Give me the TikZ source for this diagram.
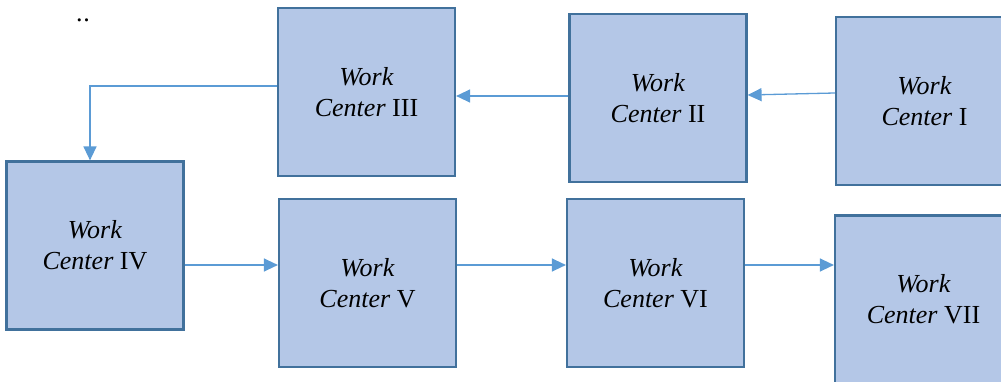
\documentclass[tikz,border=0pt]{standalone}
\usepackage{fontspec}
\setmainfont{Liberation Serif}
\usetikzlibrary{arrows.meta,calc}
\definecolor{boxfill}{HTML}{B4C7E7}
\definecolor{boxdraw}{HTML}{41719C}
\definecolor{arrowc}{HTML}{5B9BD5}
\begin{document}
\begin{tikzpicture}[x=1pt,y=-1pt,
  wc/.style={draw=boxdraw,fill=boxfill,line width=2.2pt,minimum width=177pt,minimum height=168pt,inner sep=0pt,align=center,font=\fontsize{26}{31}\selectfont},
  arr/.style={draw=arrowc,line width=1.3pt,-{Triangle[length=14pt,width=13pt]}}]
\useasboundingbox (0,0) rectangle (1001,382);
\clip (0,0) rectangle (1001,382);
\node[font=\fontsize{26}{30}\selectfont,anchor=base] (dots) at (83,22) {.\kern1pt.};
\node[wc] (III) at (366.5,92) {\textit{Work}\\\textit{Center} III};
\node[wc] (II) at (658,98) {\textit{Work}\\\textit{Center} II};
\node[wc] (I) at (924.5,101) {\textit{Work}\\\textit{Center} I};
\node[wc] (IV) at (95,245.5) {\textit{Work}\\\textit{Center} IV};
\node[wc] (V) at (367.5,283) {\textit{Work}\\\textit{Center} V};
\node[wc] (VI) at (655.5,283) {\textit{Work}\\\textit{Center} VI};
\node[wc] (VII) at (923.5,299.5) {\textit{Work}\\\textit{Center} VII};
\draw[arr] ($(I.west)+(0,-8)$) -- ($(II.east)+(0,-3)$);
\draw[arr] ($(II.west)+(0,-2)$) -- ($(III.east)+(0,4)$);
\draw[arr] ($(III.west)+(0,-6)$) -| ($(IV.north)+(-5,0)$);
\draw[arr] ($(IV.east)+(0,19.5)$) -- ($(V.west)+(0,-18)$);
\draw[arr] ($(V.east)+(0,-18)$) -- ($(VI.west)+(0,-18)$);
\draw[arr] ($(VI.east)+(0,-18)$) -- ($(VII.west)+(0,-34.5)$);
\end{tikzpicture}
\end{document}
